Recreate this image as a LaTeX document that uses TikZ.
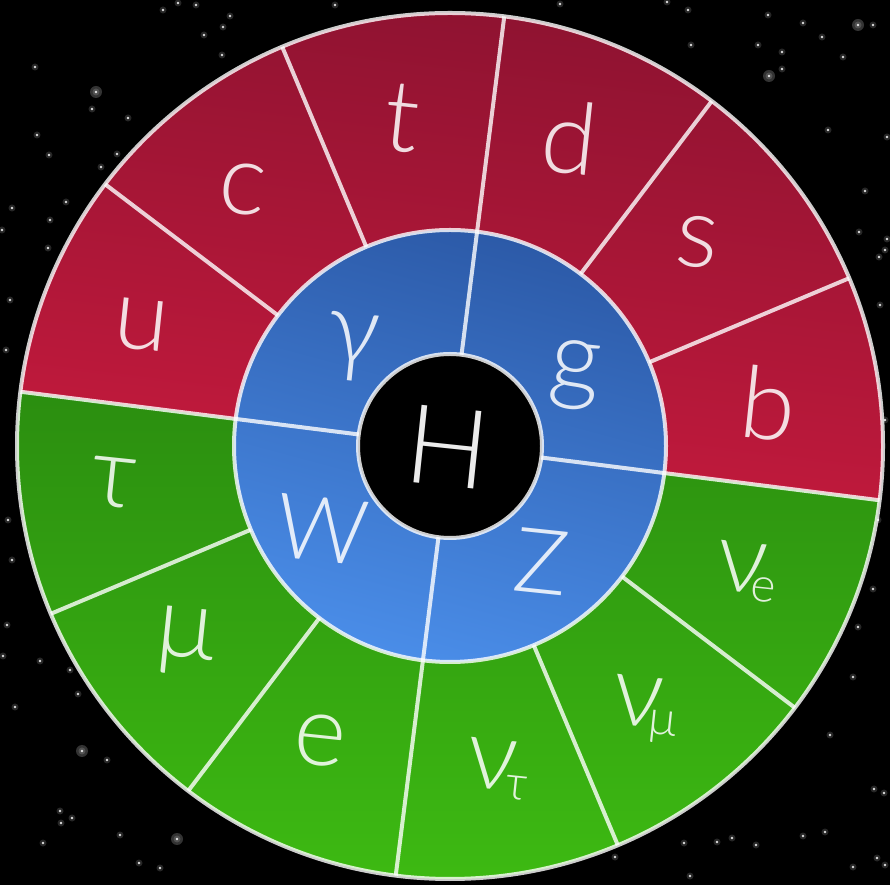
\documentclass[tikz,border=0pt]{standalone}
\usepackage{fontspec}
\newfontfamily\lbl{Lato Light}
\definecolor{redtop}{HTML}{8A1230}
\definecolor{redbot}{HTML}{C61A3D}
\definecolor{greentop}{HTML}{2B8E10}
\definecolor{greenbot}{HTML}{3EBC12}
\definecolor{bluetop}{HTML}{2C5AA8}
\definecolor{bluebot}{HTML}{4A8DE8}
\newcommand{\subtxt}[3]{\kern#1\raisebox{#2}{\fontsize{48}{56}\selectfont #3}}
\begin{document}
\begin{tikzpicture}[x=1pt,y=1pt,
  ringline/.style={draw=white, draw opacity=0.8, line width=4pt},
  lab/.style={text=white, text opacity=0.85, inner sep=0pt, rotate=-6,
              font=\lbl\fontsize{100}{110}\selectfont},
  caplab/.style={lab, font=\lbl\fontsize{90}{100}\selectfont},
  star/.style={fill=white, opacity=0.85},
  glow/.style={fill=white, opacity=0.15}]
\useasboundingbox (0,0) rectangle (890,885);
\fill[black] (0,0) rectangle (890,885);
% stars (image pixel coordinates)
\begin{scope}[shift={(0,885)}, y=-1pt]
  \foreach \p in {(163,10),(178,3),(196,5),(230,16),(223,27),(204,35),(222,55),
    (35,67),(96,92),(92,109),(128,118),(37,135),(49,155),(117,154),(101,167),
    (66,202),(12,208),(50,220),(2,230),(48,248),
    (667,2),(688,10),(691,45),(768,15),(803,23),(822,37),(858,25),(873,25),
    (758,45),(782,52),(782,69),(769,76),(843,57),(828,130),(887,137),(865,191),
    (859,232),(887,239),(879,257),(885,250),
    (7,625),(3,656),(40,661),(70,670),(78,694),(15,707),(82,751),(107,760),
    (60,811),(72,818),(61,823),(120,835),(177,839),(43,843),(139,863),(160,868),
    (830,735),(874,789),(884,793),(684,843),(717,842),(732,838),(756,845),
    (803,836),(825,832),(877,858),(853,867),(885,865),(690,876),(615,857),
    (873,589),(858,627),(853,677),(10,300),(6,350),(8,520),(12,560),
    (880,305),(885,420),(878,520),(335,5),(560,4)}
  {
    \fill[glow] \p circle[radius=3.5pt];
    \fill[star] \p circle[radius=1.4pt];
  }
  \foreach \p in {(96,92),(858,25),(769,76),(82,751),(177,839)}
    \fill[white, opacity=0.2] \p circle[radius=6pt];
\end{scope}
% the wheel
\begin{scope}[shift={(450,439)}]
  \shade[top color=redtop, bottom color=redbot, shading angle=-7]
    (-7.2:433) arc[start angle=-7.2, end angle=172.8, radius=433] -- cycle;
  \shade[top color=greentop, bottom color=greenbot, shading angle=0]
    (172.8:433) arc[start angle=172.8, end angle=352.8, radius=433] -- cycle;
  \shade[top color=bluetop, bottom color=bluebot, shading angle=-15]
    (0,0) circle[radius=216];
  \fill[black] (0,0) circle[radius=92];
  \foreach \a in {-7.2,22.8,...,322.8}
    \draw[ringline] (\a:216) -- (\a:433);
  \foreach \a in {82.8,172.8,262.8,352.8}
    \draw[ringline] (\a:92) -- (\a:216);
  \draw[ringline] (0,0) circle[radius=433];
  \draw[ringline] (0,0) circle[radius=216];
  \draw[ringline] (0,0) circle[radius=92];
\end{scope}
% labels (image pixel coordinates)
\begin{scope}[shift={(0,885)}, y=-1pt]
  \node[lab] (u) at (141,325) {u};
  \node[lab] (c) at (243,189) {c};
  \node[lab] (t) at (402,118) {t};
  \node[lab] (d) at (570,138) {d};
  \node[lab] (s) at (697,242) {s};
  \node[lab] (b) at (769,404) {b};
  \node[lab] (tau) at (114,483) {τ};
  \node[lab] (mu) at (185,642) {μ};
  \node[lab] (e) at (320,740) {e};
  \node[lab] (nut) at (498,769) {ν\subtxt{-10pt}{-8pt}{τ}};
  \node[lab] (num) at (645,709) {ν\subtxt{-12pt}{-6pt}{μ}};
  \node[lab] (nue) at (747,572) {ν\subtxt{-14pt}{-7pt}{e}};
  \node[lab] (gamma) at (352,347) {γ};
  \node[lab] (g) at (575,375) {g};
  \node[caplab] (W) at (322,530) {W};
  \node[caplab] (Z) at (542,562) {Z};
  \node[lab, text opacity=0.92, font=\lbl\fontsize{110}{120}\selectfont] (H) at (448,447) {H};
\end{scope}
\end{tikzpicture}
\end{document}
